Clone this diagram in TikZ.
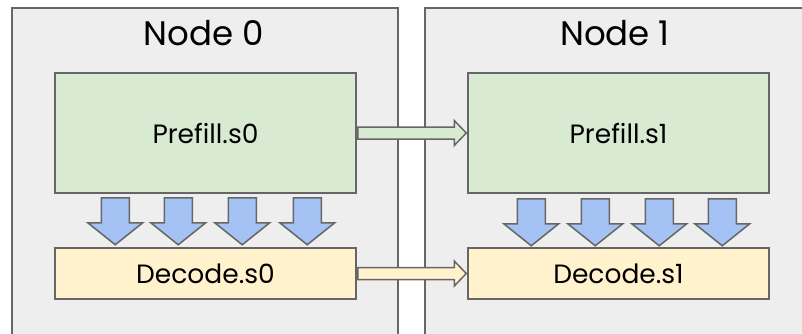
\documentclass[tikz,border=0pt]{standalone}
\usepackage{fontspec}
\setmainfont{Poppins}
\usetikzlibrary{calc}
\definecolor{edge}{HTML}{666666}
\definecolor{panel}{HTML}{EEEEEE}
\definecolor{prefillfill}{HTML}{D9EAD3}
\definecolor{decodefill}{HTML}{FFF2CC}
\definecolor{flowblue}{HTML}{A4C2F4}
\tikzset{
  panelbox/.style={draw=edge, line width=1.5pt, fill=panel, rectangle, inner sep=0pt},
  stagebox/.style={draw=edge, line width=1.5pt, rectangle, inner sep=0pt,
    font=\fontsize{26.5}{30}\selectfont, text=black},
  title/.style={font=\fontsize{34}{40}\selectfont, text=black, anchor=base, inner sep=0pt},
  blockarrow/.style={draw=edge, line width=1.5pt, line join=miter},
  blockdown/.pic={
    \draw[blockarrow, fill=flowblue] (-14,0) -- (14,0) -- (14,25) -- (27.5,25)
      -- (0,47) -- (-27.5,25) -- (-14,25) -- cycle;
  }
}
\begin{document}
\begin{tikzpicture}[x=1pt,y=-1pt]
  \useasboundingbox (0,0) rectangle (802,334);
  \clip (0,0) rectangle (802,334);

  % machine panels
  \node[panelbox, minimum width=386pt, minimum height=342pt] (n0) at (205,179) {};
  \node[panelbox, minimum width=385pt, minimum height=342pt] (n1) at (617.5,179) {};
  \node[title] (t0) at (204,46) {Node 0};
  \node[title] (t1) at (615,46) {Node 1};

  % stages
  \node[stagebox, fill=prefillfill, minimum width=301pt, minimum height=120pt] (p0) at (205.5,133) {Prefill.s0};
  \node[stagebox, fill=prefillfill, minimum width=301pt, minimum height=120pt] (p1) at (618.5,133) {Prefill.s1};
  \node[stagebox, fill=decodefill, minimum width=301pt, minimum height=51pt] (d0) at (205.5,273.5) {Decode.s0};
  \node[stagebox, fill=decodefill, minimum width=301pt, minimum height=51pt] (d1) at (618.5,273.5) {Decode.s1};

  % prefill -> decode hand-off inside each node
  \foreach \dx in {61,124,188,253}
    \pic at ($(p0.south west)+(\dx,4)$) {blockdown};
  \foreach \dx in {64,128,192,255}
    \pic at ($(p1.south west)+(\dx,5)$) {blockdown};

  % transfers between nodes
  \draw[blockarrow, fill=prefillfill]
    ($(p0.east)+(1,-6)$) -- ($(p1.west)+(-13,-6)$) -- ($(p1.west)+(-13,-12.5)$)
    -- ($(p1.west)+(-1,0)$) -- ($(p1.west)+(-13,12.5)$) -- ($(p1.west)+(-13,6)$)
    -- ($(p0.east)+(1,6)$) -- cycle;
  \draw[blockarrow, fill=decodefill]
    ($(d0.east)+(1,-6)$) -- ($(d1.west)+(-13,-6)$) -- ($(d1.west)+(-13,-12.5)$)
    -- ($(d1.west)+(-1,0)$) -- ($(d1.west)+(-13,12.5)$) -- ($(d1.west)+(-13,6)$)
    -- ($(d0.east)+(1,6)$) -- cycle;
\end{tikzpicture}
\end{document}
